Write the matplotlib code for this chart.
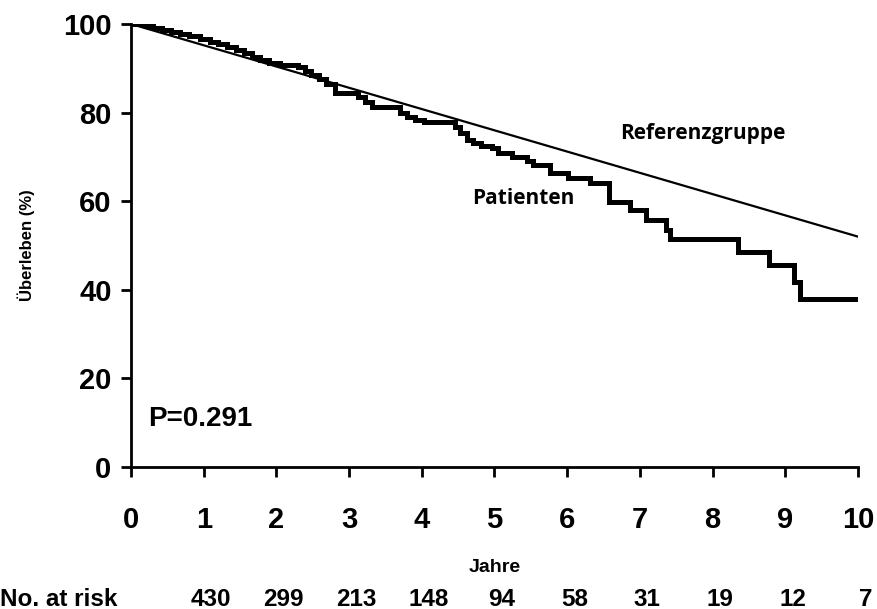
import numpy as np
import matplotlib.pyplot as plt

# Kaplan-Meier steps (Jahre, Ueberleben %)
km_time = [0, 0.2, 0.3, 0.42, 0.55, 0.68, 0.8, 0.95, 1.08, 1.2, 1.32, 1.45, 1.55,
           1.66, 1.78, 1.9, 2.05, 2.3, 2.4, 2.48, 2.58, 2.68, 2.8, 3.12, 3.22,
           3.31, 3.7, 3.79, 3.91, 4.03, 4.46, 4.53, 4.62, 4.7, 4.82, 4.96, 5.05,
           5.24, 5.45, 5.53, 5.76, 6.01, 6.31, 6.57, 6.87, 7.09, 7.36, 7.42,
           8.35, 8.77, 9.12, 9.2, 10.0]
km_surv = [100, 99.5, 99.0, 98.6, 98.2, 97.8, 97.2, 96.7, 96.0, 95.4, 94.7, 94.1,
           93.5, 92.6, 91.9, 91.2, 90.7, 90.2, 89.5, 88.6, 87.5, 86.4, 84.4,
           83.6, 82.5, 81.3, 79.8, 79.1, 78.3, 77.9, 76.8, 75.3, 73.8, 73.1,
           72.5, 71.9, 70.8, 70.0, 69.0, 68.2, 66.3, 65.2, 64.0, 59.8, 58.0,
           55.8, 53.5, 51.4, 48.6, 45.6, 41.8, 37.9, 37.9]

# expected survival of the reference group
ref_time = [0, 10]
ref_surv = [100, 52]

at_risk_years = [1, 2, 3, 4, 5, 6, 7, 8, 9, 10]
at_risk = [430, 299, 213, 148, 94, 58, 31, 19, 12, 7]

plt.rcParams['font.family'] = ['Liberation Sans', 'DejaVu Sans']

fig = plt.figure(figsize=(8.78, 6.09), dpi=100)
ax = fig.add_axes([131 / 878, 1 - 467 / 609, 727 / 878, 443 / 609])

ax.step(km_time, km_surv, where='post', color='black', lw=3.6, solid_joinstyle='miter')
ax.plot(ref_time, ref_surv, color='black', lw=1.6)

ax.set_xlim(0, 10)
ax.set_ylim(0, 100)
ax.set_xticks(range(0, 11))
ax.set_yticks(range(0, 101, 20))
for side in ['top', 'right']:
    ax.spines[side].set_visible(False)
for side in ['left', 'bottom']:
    ax.spines[side].set_linewidth(2.0)
ax.tick_params(width=2.0, length=7, labelsize=21, pad=7)
ax.tick_params(axis='x', pad=21)
for lab in ax.get_xticklabels() + ax.get_yticklabels():
    lab.set_fontweight('bold')

ax.set_ylabel('Überleben (%)', fontsize=12, fontweight='bold', labelpad=20)
ax.set_xlabel('Jahre', fontsize=14, fontweight='bold', labelpad=18)

ax.text(0.23, 10.8, 'P=0.291', fontsize=20, fontweight='bold', va='center', ha='left')
ax.text(7.87, 75.2, 'Referenzgruppe', fontsize=15, fontweight='bold',
        family='Open Sans', ha='center', va='center')
ax.text(5.39, 60.5, 'Patienten', fontsize=15, fontweight='bold',
        family='Open Sans', ha='center', va='center')

# number at risk row below the axis
ax.text(-1.8, -29.8, 'No. at risk', fontsize=17.5, fontweight='bold',
        ha='left', va='center', clip_on=False)
for yr, n in zip(at_risk_years, at_risk):
    ax.text(yr + 0.1, -29.8, str(n), fontsize=17.5, fontweight='bold',
            ha='center', va='center', clip_on=False)

fig.savefig('out.png', dpi=100)
